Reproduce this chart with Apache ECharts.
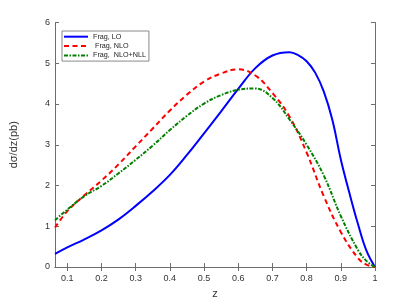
<!DOCTYPE html>
<html><head><meta charset="utf-8">
<script src="https://cdn.jsdelivr.net/npm/echarts@6/dist/echarts.min.js"></script>
<style>html,body{margin:0;padding:0;background:#fff}#c{width:415px;height:304px}</style>
</head><body><div id="c"></div>
<script>
const xTicks = [0.1,0.2,0.3,0.4,0.5,0.6,0.7,0.8,0.9,1];
const loX = [0.064,0.1,0.15,0.2,0.25,0.3,0.35,0.4,0.45,0.5,0.55,0.6,0.65,0.7,0.75,0.775,0.8,0.825,0.85,0.875,0.9,0.925,0.95,0.975,1.0];
const loY = [0.32,0.48,0.68,0.90,1.17,1.50,1.86,2.26,2.75,3.28,3.82,4.37,4.88,5.19,5.27,5.20,5.05,4.77,4.31,3.62,2.64,1.82,1.06,0.40,0.0];
const nloX = [0.064,0.1,0.15,0.2,0.25,0.3,0.35,0.4,0.45,0.5,0.55,0.6,0.65,0.7,0.75,0.8,0.85,0.9,0.95,0.975,1.0];
const nloY = [0.97,1.37,1.76,2.12,2.52,2.96,3.40,3.84,4.23,4.55,4.75,4.85,4.70,4.27,3.69,2.81,1.74,0.86,0.22,0.06,0.0];
const nllX = [0.064,0.1,0.15,0.2,0.25,0.3,0.35,0.4,0.45,0.5,0.55,0.6,0.65,0.7,0.75,0.8,0.85,0.9,0.95,0.975,1.0];
const nllY = [1.15,1.41,1.74,1.99,2.30,2.63,2.98,3.36,3.71,4.01,4.22,4.35,4.38,4.15,3.62,3.00,2.25,1.25,0.42,0.15,0.0];
const names = ['Frag, LO',' Frag, NLO','Frag,  NLO+NLL'];

const zip = (a,b) => a.map((v,i)=>[v,b[i]]);
const axisCol = '#6e6e6e', txtCol = '#333333';
const font = 'Liberation Sans, Arial, sans-serif';
const chart = echarts.init(document.getElementById('c'), null, {renderer:'canvas'});
const baseX = {
  type:'value', min:0.064, max:1,
  axisLine:{show:true, lineStyle:{color:axisCol, width:1}},
  axisTick:{show:true, inside:true, length:4, customValues:xTicks, lineStyle:{color:axisCol}},
  splitLine:{show:false}
};
const baseY = {
  type:'value', min:0, max:6, interval:1,
  axisLine:{show:true, lineStyle:{color:axisCol, width:1}},
  axisTick:{show:true, inside:true, length:4, lineStyle:{color:axisCol}},
  splitLine:{show:false}
};
chart.setOption({
  animation:false,
  grid:{left:53, right:40, top:22.5, bottom:34},
  legend:{
    orient:'vertical', left:62, top:31, padding:[2,3,2,1],
    itemWidth:24, itemHeight:9.2, itemGap:2,
    borderColor:'#8a8a8a', borderWidth:1, backgroundColor:'#fff',
    itemStyle:{opacity:0},
    textStyle:{fontSize:7.2, color:'#222', fontFamily:font},
    data:names
  },
  xAxis:[
    Object.assign({}, baseX, {position:'bottom', name:'z', nameLocation:'middle', nameGap:21,
      nameTextStyle:{fontSize:11, color:txtCol, fontFamily:font},
      axisLabel:{show:true, customValues:xTicks, fontSize:9, color:txtCol, margin:7,
        fontFamily:font, formatter:v=>String(Math.round(v*10)/10)}}),
    Object.assign({}, baseX, {position:'top', axisLabel:{show:false}})
  ],
  yAxis:[
    Object.assign({}, baseY, {position:'left', name:'dσ/dz(pb)', nameLocation:'middle', nameGap:36,
      nameTextStyle:{fontSize:11, color:txtCol, fontFamily:font},
      axisLabel:{fontSize:9, color:txtCol, margin:5, fontFamily:font}}),
    Object.assign({}, baseY, {position:'right', axisLabel:{show:false}})
  ],
  series:[
    {name:names[0], type:'line', data:zip(loX,loY), smooth:0.4, symbol:'none', z:3,
     lineStyle:{color:'#0000ff', width:2}, itemStyle:{color:'#0000ff'}},
    {name:names[1], type:'line', data:zip(nloX,nloY), smooth:0.4, symbol:'none', z:4,
     lineStyle:{color:'#ff0000', width:2, type:[5,3.5]}, itemStyle:{color:'#ff0000'}},
    {name:names[2], type:'line', data:zip(nllX,nllY), smooth:0.4, symbol:'none', z:5,
     lineStyle:{color:'#008000', width:2, type:[4,1.5,1.5,1.5]}, itemStyle:{color:'#008000'}}
  ]
});
</script></body></html>
